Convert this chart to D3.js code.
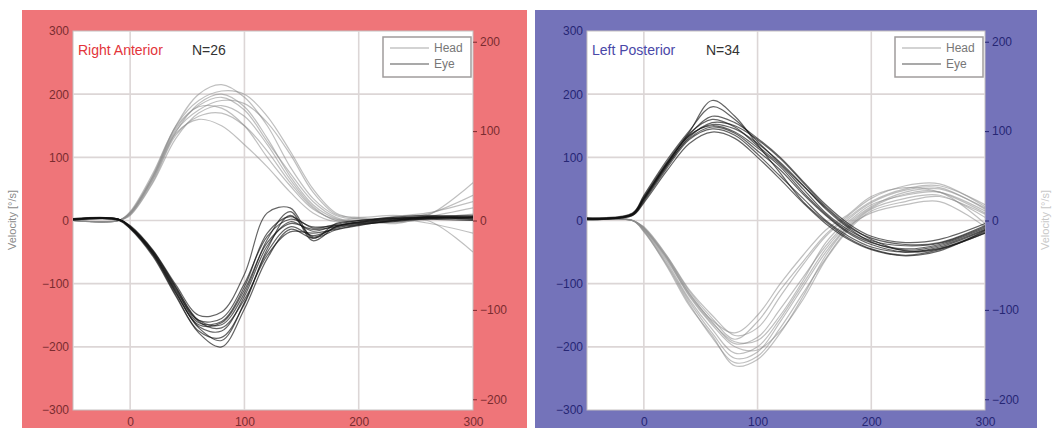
<!DOCTYPE html>
<html>
<head>
<meta charset="utf-8">
<script src="https://cdn.jsdelivr.net/npm/d3@7"></script>
<style>
    body { margin: 0; background: #fff; }
    svg { display: block; font-family: "Liberation Sans", Arial, sans-serif; }
</style>
</head>
<body>
<svg width="1052" height="428"></svg>
<script>
// sample times (ms) shared by every trace
let times = [-50, -10, 0, 20, 40, 60, 80, 100, 120, 140, 160, 180, 200, 230, 260, 300];

let leftTicks = [-300, -200, -100, 0, 100, 200, 300];
let rightTicks = [-200, -100, 0, 100, 200];
let xTicks = [0, 100, 200, 300];

// Right Anterior, N=26  (velocity, deg/s)
let raHead = [
    [0, 0, 12, 70, 150, 200, 215, 195, 150, 85, 35, 8, 2, 5, 8, 60],
    [0, 0, 10, 65, 140, 185, 200, 180, 130, 70, 25, 3, -3, 2, 10, 40],
    [0, 0, 14, 75, 148, 180, 178, 150, 100, 55, 18, 2, 0, -5, 0, -50],
    [0, 0, 11, 68, 142, 175, 190, 185, 155, 105, 45, 10, 5, 8, 5, 10],
    [0, 0, 9, 62, 135, 165, 170, 150, 110, 60, 20, 0, -5, 0, 6, 20],
    [0, 0, 13, 72, 150, 190, 205, 200, 165, 110, 50, 12, 3, -2, 4, 5],
    [0, 0, 10, 66, 138, 160, 150, 120, 85, 45, 12, -2, 0, 3, -4, -20],
    [0, 0, 12, 70, 145, 182, 195, 175, 125, 75, 30, 5, -2, 6, 12, 30],
    [0, 0, 8, 60, 130, 170, 182, 165, 120, 65, 22, 0, 4, -3, 2, 0]
];
let raEye = [
    [2, 2, -10, -50, -110, -158, -155, -100, -25, 2, -10, -8, -3, 2, 5, 3],
    [1, 1, -12, -54, -115, -165, -162, -110, -35, -5, -14, -10, -5, 0, 4, 6],
    [3, 2, -8, -47, -102, -150, -145, -85, 12, 20, -28, -5, 0, 3, 2, 0],
    [2, 2, -11, -52, -114, -170, -190, -130, -50, -10, -24, -12, -6, -2, 3, 5],
    [1, 0, -13, -57, -120, -178, -200, -140, -60, -14, -28, -15, -8, 0, 6, 8],
    [2, 2, -9, -48, -105, -158, -165, -115, -30, 14, -32, -10, -2, 4, 5, 2],
    [2, 1, -10, -51, -108, -162, -160, -105, -20, 6, -12, -6, 0, 5, 8, 4],
    [3, 2, -11, -53, -112, -168, -175, -120, -40, -2, -17, -8, -4, 1, 3, 6],
    [2, 2, -10, -49, -106, -160, -170, -125, -55, -18, -20, -14, -7, -1, 4, 2],
    [1, 1, -12, -55, -118, -175, -185, -132, -45, 8, -26, -10, -3, 3, 6, 5]
];

// Left Posterior, N=34
let lpHead = [
    [0, 0, -12, -58, -115, -160, -195, -185, -140, -90, -40, -2, 25, 40, 45, 15],
    [0, 0, -15, -65, -125, -172, -210, -200, -155, -100, -45, -5, 22, 45, 50, 20],
    [0, 0, -10, -55, -110, -150, -182, -170, -120, -70, -25, 5, 30, 50, 55, 25],
    [0, 0, -18, -70, -132, -185, -225, -215, -170, -115, -60, -12, 18, 35, 40, 5],
    [0, 0, -14, -60, -120, -165, -200, -205, -175, -125, -62, -15, 15, 30, 38, 10],
    [0, 0, -11, -56, -112, -155, -188, -160, -110, -65, -22, 8, 35, 55, 58, 22],
    [0, 0, -16, -68, -128, -178, -218, -208, -160, -105, -50, -8, 20, 42, 45, -5],
    [0, 0, -13, -62, -118, -162, -192, -190, -150, -95, -35, 2, 28, 48, 52, 18],
    [0, 0, -17, -72, -135, -182, -230, -220, -178, -120, -55, -10, 12, 25, 30, -10],
    [0, 0, -12, -58, -116, -158, -178, -150, -100, -55, -15, 10, 38, 52, 45, 12]
];
let lpEye = [
    [3, 10, 35, 88, 135, 150, 140, 115, 85, 45, 10, -18, -35, -45, -38, -12],
    [2, 8, 30, 82, 128, 145, 135, 105, 70, 35, 0, -25, -42, -50, -42, -15],
    [4, 12, 40, 95, 142, 180, 160, 125, 90, 55, 20, -10, -28, -38, -35, -8],
    [3, 9, 32, 85, 132, 155, 150, 128, 98, 60, 22, -8, -30, -48, -44, -18],
    [2, 10, 36, 90, 140, 190, 165, 120, 75, 30, -2, -28, -45, -55, -46, -20],
    [3, 11, 38, 92, 138, 160, 148, 118, 88, 50, 12, -15, -32, -40, -36, -10],
    [4, 8, 28, 78, 122, 140, 130, 100, 65, 28, -5, -30, -46, -56, -48, -16],
    [3, 10, 34, 88, 134, 152, 145, 122, 92, 56, 18, -12, -34, -47, -40, -14],
    [2, 9, 33, 86, 130, 148, 138, 110, 80, 42, 8, -20, -38, -50, -45, -20],
    [3, 10, 36, 90, 136, 165, 155, 130, 100, 62, 25, -5, -25, -35, -30, -5]
];

let svg = d3.select('svg');
let plotTop = 31, plotBottom = 410;

function drawPanel(p) {
    // coloured frame
    svg.append('rect')
        .attr('x', p.bx).attr('y', 10)
        .attr('width', p.bw).attr('height', 430)
        .style('fill', p.bg);

    let xScale = d3.scaleLinear().domain([-50, 300]).range([p.left, p.left + p.width]);
    let yScale = d3.scaleLinear().domain([-300, 300]).range([plotBottom, plotTop]);
    let yScaleR = d3.scaleLinear().domain([-212, 212]).range([plotBottom, plotTop]);

    let g = svg.append('g');

    g.append('rect')
        .attr('x', p.left).attr('y', plotTop)
        .attr('width', p.width).attr('height', plotBottom - plotTop)
        .style('fill', '#fff')
        .style('stroke', '#c4c0c0')
        .style('stroke-width', 1);

    // grid
    g.selectAll('.hgrid').data([-200, -100, 0, 100, 200])
        .enter().append('line')
        .attr('class', 'hgrid')
        .attr('x1', p.left).attr('x2', p.left + p.width)
        .attr('y1', d => yScale(d)).attr('y2', d => yScale(d))
        .style('stroke', '#dcd6d6').style('stroke-width', 1.6);
    g.selectAll('.vgrid').data([0, 100, 200])
        .enter().append('line')
        .attr('class', 'vgrid')
        .attr('y1', plotTop).attr('y2', plotBottom)
        .attr('x1', d => xScale(d)).attr('x2', d => xScale(d))
        .style('stroke', '#dcd6d6').style('stroke-width', 1.6);

    // traces
    let clipId = 'clip' + p.bx;
    svg.append('clipPath').attr('id', clipId)
        .append('rect')
        .attr('x', p.left).attr('y', plotTop)
        .attr('width', p.width).attr('height', plotBottom - plotTop);

    let line = d3.line()
        .x((d, i) => xScale(times[i]))
        .y(d => yScale(d))
        .curve(d3.curveCatmullRom.alpha(0.5));

    let traces = g.append('g').attr('clip-path', 'url(#' + clipId + ')');
    traces.selectAll('.head').data(p.head)
        .enter().append('path')
        .attr('class', 'head')
        .attr('d', line)
        .style('fill', 'none')
        .style('stroke', '#8a8a8a')
        .style('stroke-opacity', 0.55)
        .style('stroke-width', 1.2);
    traces.selectAll('.eye').data(p.eye)
        .enter().append('path')
        .attr('class', 'eye')
        .attr('d', line)
        .style('fill', 'none')
        .style('stroke', '#111')
        .style('stroke-opacity', 0.65)
        .style('stroke-width', 1.2);

    // axes
    let yAxis = d3.axisLeft(yScale).tickValues(leftTicks).tickSize(0).tickPadding(4);
    let yAxisR = d3.axisRight(yScaleR).tickValues(rightTicks).tickSize(4).tickPadding(3);
    let xAxis = d3.axisBottom(xScale).tickValues(xTicks).tickSize(0).tickPadding(7);

    let ga = svg.append('g').attr('transform', 'translate(' + p.left + ',0)').call(yAxis);
    let gr = svg.append('g').attr('transform', 'translate(' + (p.left + p.width) + ',0)').call(yAxisR);
    let gx = svg.append('g').attr('transform', 'translate(0,' + plotBottom + ')').call(xAxis);
    [ga, gr, gx].forEach(a => {
        a.select('.domain').remove();
        a.selectAll('text')
            .style('font-size', '12px')
            .style('font-family', '"Liberation Sans", Arial, sans-serif')
            .style('fill', p.tickColor);
        a.selectAll('line').style('stroke', p.tickColor);
    });

    // title
    g.append('text')
        .attr('x', p.left + 5).attr('y', 55)
        .style('font-size', '14px')
        .style('fill', p.titleColor)
        .text(p.title);
    g.append('text')
        .attr('x', p.left + 119).attr('y', 55)
        .style('font-size', '14px')
        .style('fill', '#333')
        .text(p.n);

    // legend
    let lx = p.left + p.width - 90, ly = 37;
    let leg = g.append('g').attr('transform', 'translate(' + lx + ',' + ly + ')');
    leg.append('rect')
        .attr('width', 88).attr('height', 40)
        .style('fill', '#fff')
        .style('stroke', '#a09c9c')
        .style('stroke-width', 1.5);
    let items = [{ name: 'Head', color: '#c4c4c4' }, { name: 'Eye', color: '#8c8c8c' }];
    items.forEach((it, i) => {
        leg.append('line')
            .attr('x1', 7).attr('x2', 46)
            .attr('y1', 11 + i * 16).attr('y2', 11 + i * 16)
            .style('stroke', it.color).style('stroke-width', 1.5);
        leg.append('text')
            .attr('x', 51).attr('y', 15 + i * 16)
            .style('font-size', '12px')
            .style('fill', '#777')
            .text(it.name);
    });
}

drawPanel({
    bx: 22, bw: 505, left: 73, width: 400,
    bg: '#ef7579', tickColor: '#7a2c30',
    title: 'Right Anterior', titleColor: '#e3343a', n: 'N=26',
    head: raHead, eye: raEye
});

drawPanel({
    bx: 535, bw: 502, left: 587, width: 398,
    bg: '#7473ba', tickColor: '#262674',
    title: 'Left Posterior', titleColor: '#4a48a8', n: 'N=34',
    head: lpHead, eye: lpEye
});

// y axis titles
svg.append('text')
    .attr('transform', 'translate(16,220) rotate(-90)')
    .style('text-anchor', 'middle')
    .style('font-size', '11px')
    .style('fill', '#8a8a8a')
    .text('Velocity [°/s]');
svg.append('text')
    .attr('transform', 'translate(1049,220) rotate(-90)')
    .style('text-anchor', 'middle')
    .style('font-size', '11px')
    .style('fill', '#c8c8c8')
    .text('Velocity [°/s]');
</script>
</body>
</html>
